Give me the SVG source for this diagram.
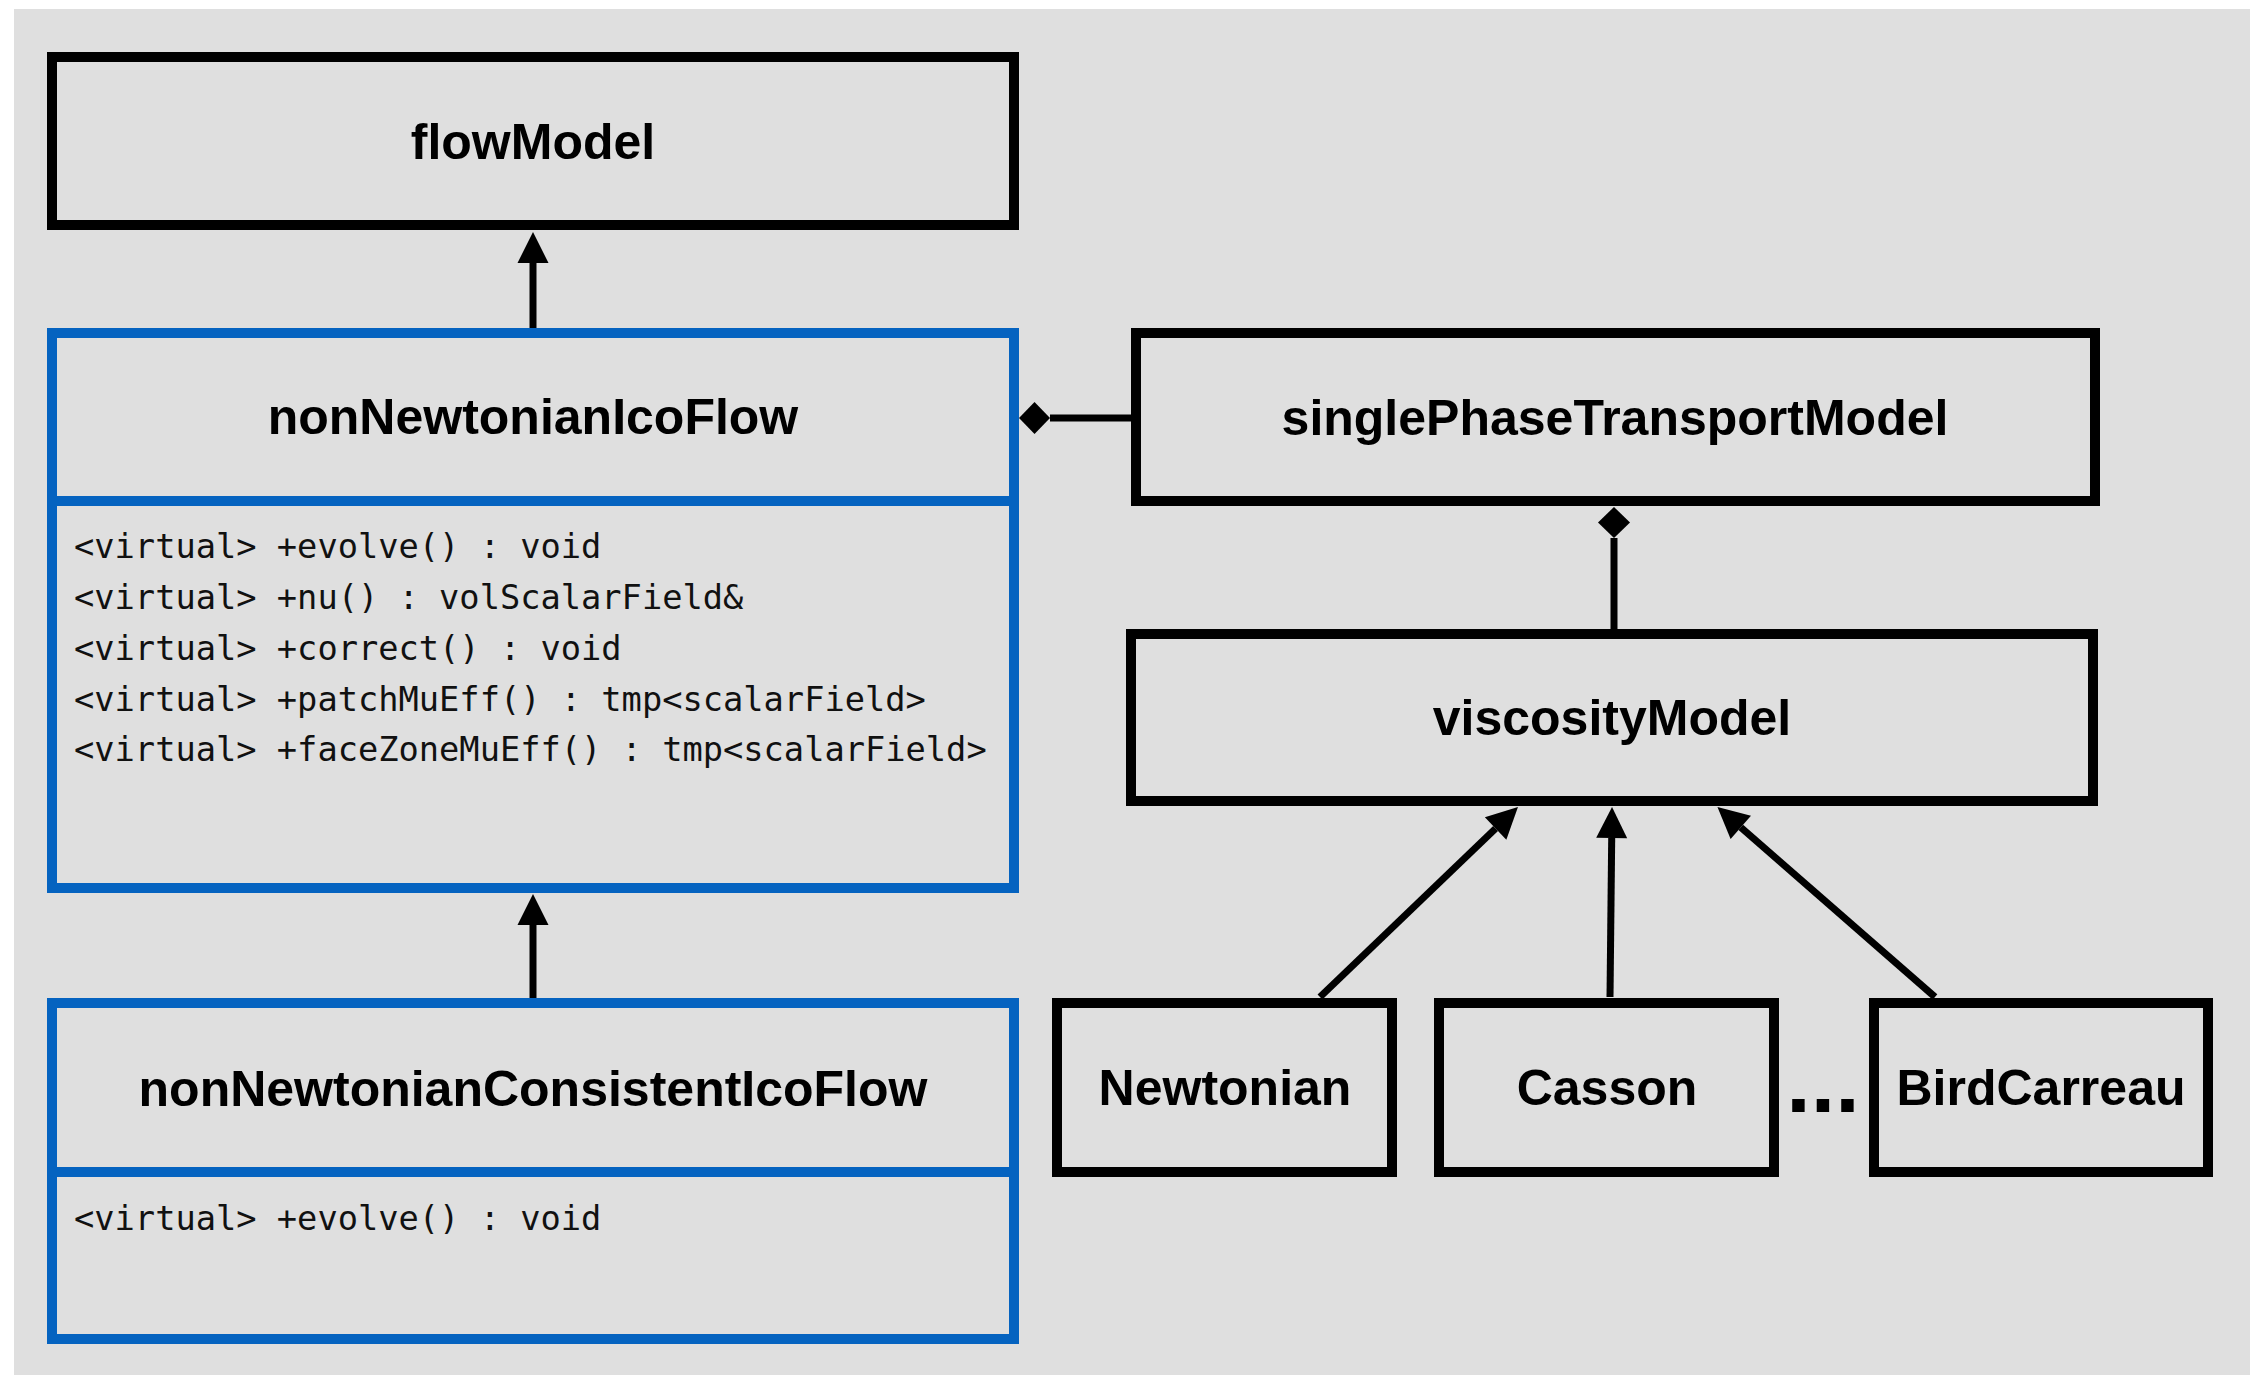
<svg xmlns="http://www.w3.org/2000/svg" width="2250" height="1375" viewBox="0 0 2250 1375">
  <style>
    .box { fill: #dfdfdf; stroke: #000; stroke-width: 10; }
    .cls { fill: #dfdfdf; stroke: #0563c0; stroke-width: 10; }
    .div { stroke: #0563c0; stroke-width: 10; }
    .title { font-family: "Liberation Sans", Arial, sans-serif; font-weight: bold; font-size: 50px; fill: #000; text-anchor: middle; }
    .meth { font-family: "DejaVu Sans Mono", monospace; font-size: 33.7px; fill: #111; }
    .conn { stroke: #000; stroke-width: 7; fill: none; }
  </style>
  <defs>
    <marker id="arrow" markerUnits="userSpaceOnUse" markerWidth="31" markerHeight="31" refX="0" refY="15.5" orient="auto" overflow="visible">
      <path d="M0,0 L31,15.5 L0,31 Z" fill="#000"/>
    </marker>
    <marker id="diamond" markerUnits="userSpaceOnUse" markerWidth="31" markerHeight="32" refX="0" refY="16" orient="auto" overflow="visible">
      <path d="M0,16 L15.5,0 L31,16 L15.5,32 Z" fill="#000"/>
    </marker>
  </defs>
  <rect x="0" y="0" width="2250" height="1375" fill="#ffffff"/>
  <rect x="14" y="9" width="2236" height="1366" fill="#dfdfdf"/>

  <g id="flowModel">
    <rect class="box" x="52" y="57" width="962" height="168"/>
    <text class="title" x="533" y="159">flowModel</text>
  </g>

  <g id="nonNewtonianIcoFlow">
    <rect class="cls" x="52" y="333" width="962" height="555"/>
    <line class="div" x1="52" y1="501" x2="1014" y2="501"/>
    <text class="title" x="533" y="434">nonNewtonianIcoFlow</text>
    <text class="meth" x="74" y="558">&lt;virtual&gt; +evolve() : void</text>
    <text class="meth" x="74" y="609">&lt;virtual&gt; +nu() : volScalarField&amp;</text>
    <text class="meth" x="74" y="660">&lt;virtual&gt; +correct() : void</text>
    <text class="meth" x="74" y="711">&lt;virtual&gt; +patchMuEff() : tmp&lt;scalarField&gt;</text>
    <text class="meth" x="74" y="761">&lt;virtual&gt; +faceZoneMuEff() : tmp&lt;scalarField&gt;</text>
  </g>

  <g id="nonNewtonianConsistentIcoFlow">
    <rect class="cls" x="52" y="1003" width="962" height="336"/>
    <line class="div" x1="52" y1="1172" x2="1014" y2="1172"/>
    <text class="title" x="533" y="1106">nonNewtonianConsistentIcoFlow</text>
    <text class="meth" x="74" y="1230">&lt;virtual&gt; +evolve() : void</text>
  </g>

  <g id="singlePhaseTransportModel">
    <rect class="box" x="1136" y="333" width="959" height="168"/>
    <text class="title" x="1615" y="435">singlePhaseTransportModel</text>
  </g>

  <g id="viscosityModel">
    <rect class="box" x="1131" y="634" width="962" height="167"/>
    <text class="title" x="1612" y="735">viscosityModel</text>
  </g>

  <g id="Newtonian">
    <rect class="box" x="1057" y="1003" width="335" height="169"/>
    <text class="title" x="1225" y="1105">Newtonian</text>
  </g>

  <g id="Casson">
    <rect class="box" x="1439" y="1003" width="335" height="169"/>
    <text class="title" x="1607" y="1105">Casson</text>
  </g>

  <g id="ellipsis">
    <text class="title" x="1823" y="1112" style="font-size:88px">...</text>
  </g>

  <g id="BirdCarreau">
    <rect class="box" x="1874" y="1003" width="334" height="169"/>
    <text class="title" x="2041" y="1105">BirdCarreau</text>
  </g>

  <g id="connectors">
    <path class="conn" d="M533,328 L533,263" marker-end="url(#arrow)"/>
    <path class="conn" d="M533,998 L533,925" marker-end="url(#arrow)"/>
    <path class="conn" d="M1131,418 L1050,418" marker-end="url(#diamond)"/>
    <path class="conn" d="M1614,629 L1614,538" marker-end="url(#diamond)"/>
    <path class="conn" d="M1320,997 L1495.6,828.5" marker-end="url(#arrow)"/>
    <path class="conn" d="M1610,997 L1611.7,838" marker-end="url(#arrow)"/>
    <path class="conn" d="M1935,997 L1740.8,827.4" marker-end="url(#arrow)"/>
  </g>
</svg>
